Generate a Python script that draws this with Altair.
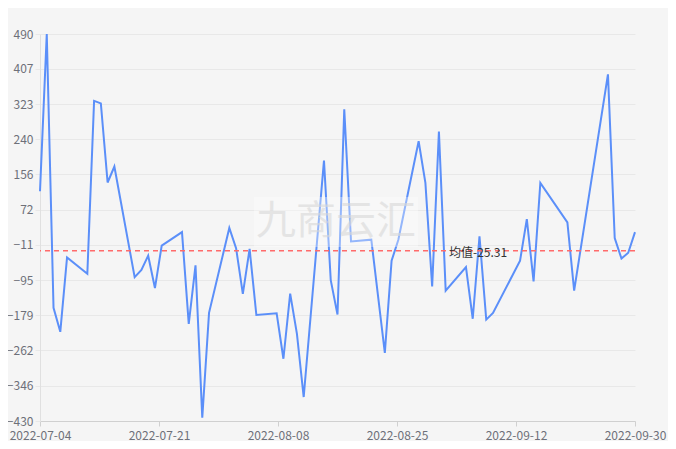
import altair as alt
import pandas as pd

dates = [
    "2022-07-04", "2022-07-05", "2022-07-06", "2022-07-07", "2022-07-08",
    "2022-07-11", "2022-07-12", "2022-07-13", "2022-07-14", "2022-07-15",
    "2022-07-18", "2022-07-19", "2022-07-20", "2022-07-21", "2022-07-22",
    "2022-07-25", "2022-07-26", "2022-07-27", "2022-07-28", "2022-07-29",
    "2022-08-01", "2022-08-02", "2022-08-03", "2022-08-04", "2022-08-05",
    "2022-08-08", "2022-08-09", "2022-08-10", "2022-08-11", "2022-08-12",
    "2022-08-15", "2022-08-16", "2022-08-17", "2022-08-18", "2022-08-19",
    "2022-08-22", "2022-08-24", "2022-08-25", "2022-08-26",
    "2022-08-29", "2022-08-30", "2022-08-31", "2022-09-01", "2022-09-02",
    "2022-09-05", "2022-09-06", "2022-09-07", "2022-09-08", "2022-09-09",
    "2022-09-13", "2022-09-14", "2022-09-15", "2022-09-16",
    "2022-09-20", "2022-09-21",
    "2022-09-26", "2022-09-27", "2022-09-28", "2022-09-29", "2022-09-30",
]
values = [
    116, 490, -161, -218, -41,
    -80, 331, 325, 137, 175,
    -88, -71, -37, -114, -13,
    19, -199, -60, -422, -173,
    29, -19, -128, -21, -178,
    -174, -282, -127, -223, -373,
    189, -95, -177, 311, -3,
    1, -268, -49, 1,
    235, 136, -110, 258, -120,
    -64, -187, 9, -189, -173,
    -49, 50, -98, 136,
    42, -120,
    394, 5, -44, -30, 19,
]
y_ticks = [-430, -346, -262, -179, -95, -11, 72, 156, 240, 323, 407, 490]
MEAN = -25.31
MEAN_LABEL = "均值" + str(MEAN)
WATERMARK = "九商云汇"

df = pd.DataFrame({"date": dates, "value": values})
one = pd.DataFrame({"k": [0]})

x_ticks = [
    alt.DateTime(year=2022, month=7, date=4, utc=True),
    alt.DateTime(year=2022, month=7, date=21, hours=14, minutes=24, utc=True),
    alt.DateTime(year=2022, month=8, date=8, hours=4, minutes=48, utc=True),
    alt.DateTime(year=2022, month=8, date=25, hours=19, minutes=12, utc=True),
    alt.DateTime(year=2022, month=9, date=12, hours=9, minutes=36, utc=True),
    alt.DateTime(year=2022, month=9, date=30, utc=True),
]

FONT = "Noto Sans CJK SC"

line = alt.Chart(df).mark_line(color="#5b8ff9", strokeWidth=2).encode(
    x=alt.X(
        "date:T",
        scale=alt.Scale(
            type="utc",
            domain=[
                alt.DateTime(year=2022, month=7, date=4, utc=True),
                alt.DateTime(year=2022, month=9, date=30, utc=True),
            ],
        ),
        axis=alt.Axis(
            values=x_ticks,
            tickCount=6,
            labelExpr="utcFormat(datum.value, '%Y-%m-%d')",
            grid=False,
            domainColor="#d0d0d0",
            tickColor="#d0d0d0",
            tickSize=5,
            labelColor="#6e7079",
            labelFontSize=12,
            labelFont=FONT,
            labelPadding=4,
            labelOverlap=False,
            labelFlush=False,
            title=None,
        ),
    ),
    y=alt.Y(
        "value:Q",
        scale=alt.Scale(domain=[-430, 490], nice=False, zero=False),
        axis=alt.Axis(
            values=y_ticks,
            tickCount=12,
            gridColor="#e8e8e8",
            domainColor="#e0e0e0",
            tickColor="#e8e8e8",
            tickSize=5,
            labelColor="#6e7079",
            labelFontSize=12,
            labelFont=FONT,
            labelPadding=2,
            labelOverlap=False,
            labelSeparation=0,
            title=None,
        ),
    ),
)

mean_rule = alt.Chart(one).mark_rule(
    color="#ff6b6b", strokeDash=[5, 4], strokeWidth=1.5
).encode(y=alt.datum(MEAN))

mean_text = alt.Chart(one).mark_text(
    align="left", baseline="middle", dy=2, font=FONT, fontSize=12, color="#333333"
).encode(x=alt.value(409), y=alt.datum(MEAN), text=alt.value(MEAN_LABEL))

wm_rect = alt.Chart(one).mark_rect(fill="white", opacity=0.35).encode(
    x=alt.value(214), x2=alt.value(378), y=alt.value(163), y2=alt.value(213)
)
wm_text = alt.Chart(one).mark_text(
    align="center", baseline="middle", font=FONT, fontSize=40, color="#d8d8d8", opacity=0.6
).encode(x=alt.value(296), y=alt.value(188), text=alt.value(WATERMARK))

chart = (
    alt.layer(line, mean_rule, mean_text, wm_rect, wm_text)
    .properties(
        width=595,
        height=387,
        autosize="none",
        padding={"left": 32, "top": 26, "right": 33, "bottom": 20},
        background="#f5f5f5",
    )
    .configure_view(stroke=None)
    .configure_axis(labelOverlap=False)
)

chart.save("out.html", embed_options={"renderer": "svg", "actions": False})
